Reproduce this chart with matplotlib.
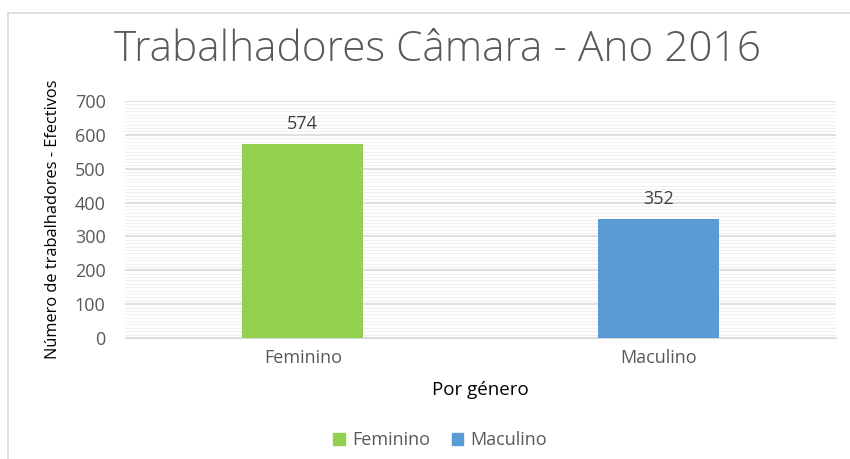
import numpy as np
import matplotlib.pyplot as plt
from matplotlib.lines import Line2D

plt.rcParams["font.family"] = ["Open Sans", "DejaVu Sans"]

categories = ["Feminino", "Maculino"]
values = [574, 352]
colors = ["#92D050", "#5B9BD5"]

text_color = "#595959"

fig = plt.figure(figsize=(8.5, 4.59), dpi=100)
ax = fig.add_axes([125 / 850, 1 - 338 / 459, 711 / 850, 237 / 459])

x = np.arange(len(categories))
bars = ax.bar(x, values, width=0.34, color=colors, label=categories, zorder=3)
for b, v in zip(bars, values):
    ax.annotate(str(v), (b.get_x() + b.get_width() / 2, v), xytext=(0, 8),
                textcoords="offset points", ha="center", va="bottom",
                fontsize=13, color="#404040")

ax.set_xlim(-0.5, 1.5)
ax.set_ylim(0, 700)
ax.set_yticks(np.arange(0, 701, 100))
ax.set_yticks(np.arange(0, 701, 10), minor=True)
ax.set_xticks(x, categories)
ax.grid(axis="y", which="major", color="#D9D9D9", lw=1.2, zorder=0)
ax.grid(axis="y", which="minor", color="#F0F0F0", lw=0.8, zorder=0)
ax.tick_params(axis="both", which="both", length=0, colors=text_color, labelsize=13)
ax.tick_params(axis="y", pad=14)
ax.tick_params(axis="x", pad=8)
for s in ["top", "right", "left"]:
    ax.spines[s].set_visible(False)
ax.spines["bottom"].set_color("#D9D9D9")

ax.set_ylabel("Número de trabalhadores - Efectivos", fontsize=11.8, color="#000000", labelpad=10)
ax.set_xlabel("Por género", fontsize=13.5, color="#000000", labelpad=10)

fig.text(438 / 850, 1 - 50 / 459, "Trabalhadores Câmara - Ano 2016", ha="center", va="center",
         fontsize=30.5, color=text_color, fontweight="light")

fig.legend(handles=[plt.Rectangle((0, 0), 1, 1, color=c) for c in colors], labels=categories,
           loc="center", bbox_to_anchor=(440 / 850, 1 - 440 / 459), ncol=2, frameon=False,
           fontsize=13, labelcolor=text_color, handlelength=0.65, handleheight=0.65,
           handletextpad=0.4, columnspacing=1.2)

# chart border
fig.add_artist(Line2D([8 / 850, 1], [1 - 13 / 459] * 2, color="#D9D9D9", lw=1.2))
fig.add_artist(Line2D([8 / 850] * 2, [0, 1 - 13 / 459], color="#D9D9D9", lw=1.2))

fig.savefig("out.png", dpi=100)
